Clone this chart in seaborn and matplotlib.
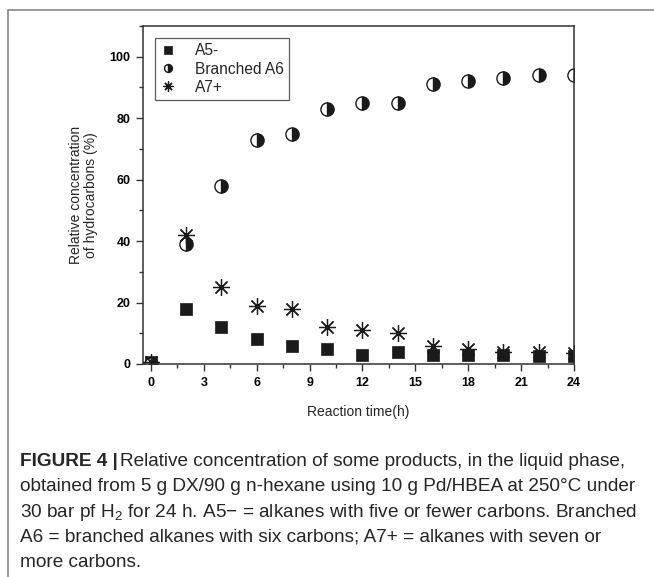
import numpy as np
import pandas as pd
import matplotlib
matplotlib.use("Agg")
import matplotlib.pyplot as plt
from matplotlib.lines import Line2D
from matplotlib.ticker import MultipleLocator
import seaborn as sns

time_h = [0, 2, 4, 6, 8, 10, 12, 14, 16, 18, 20, 22, 24]
a5_minus = [0.5, 18, 12, 8, 6, 5, 3, 4, 3, 3, 3, 2.5, 2.5]
branched_a6 = [0, 39, 58, 73, 75, 83, 85, 85, 91, 92, 93, 94, 94]
a7_plus = [0.5, 42, 25, 19, 18, 12, 11, 10, 6, 5, 4, 4, 3.5]
series_names = ["A5-", "Branched A6", "A7+"]
x_ticks = [0, 3, 6, 9, 12, 15, 18, 21, 24]
y_ticks = [0, 20, 40, 60, 80, 100]

sns.set_style("ticks")
plt.rcParams["font.family"] = ["Liberation Sans", "DejaVu Sans"]

W, H = 654, 577
fig = plt.figure(figsize=(W / 100, H / 100), dpi=100)
ax = fig.add_axes([143 / W, 1 - 364 / H, (574 - 143) / W, (364 - 26) / H])

df = pd.DataFrame({"t": time_h, "a5": a5_minus, "a6": branched_a6, "a7": a7_plus})

sns.lineplot(data=df, x="t", y="a5", ax=ax, linestyle="", marker="s", markersize=9.3,
             color="#1a1a1a", markeredgecolor="#1a1a1a", markeredgewidth=0.5,
             errorbar=None, sort=False, label=series_names[0])
sns.lineplot(data=df, x="t", y="a6", ax=ax, linestyle="", marker="o", markersize=9.5,
             fillstyle="right", color="#1a1a1a", markerfacecolor="#1a1a1a",
             markerfacecoloralt="white", markeredgecolor="#1a1a1a", markeredgewidth=1.0,
             errorbar=None, sort=False, label=series_names[1])
sns.lineplot(data=df, x="t", y="a7", ax=ax, linestyle="", marker=(8, 2, 0), markersize=12,
             color="#1a1a1a", markeredgecolor="#1a1a1a", markeredgewidth=0.9,
             errorbar=None, sort=False, label=series_names[2])

ax.set_xlim(-0.45, 24)
ax.set_ylim(0, 110)
ax.set_xticks(x_ticks)
ax.set_yticks(y_ticks)
ax.xaxis.set_minor_locator(MultipleLocator(1.5))
ax.yaxis.set_minor_locator(MultipleLocator(10))
ax.tick_params(which="major", direction="out", length=5, width=1, colors="#333333",
               labelcolor="black", labelsize=9, pad=4)
ax.tick_params(which="minor", direction="out", length=3, width=1, colors="#333333")
for lab in ax.get_xticklabels() + ax.get_yticklabels():
    lab.set_fontweight("bold")
for s in ax.spines.values():
    s.set_visible(True)
    s.set_linewidth(1.1)
    s.set_color("#333333")

ax.set_xlabel("Reaction time(h)", fontsize=10, labelpad=12)
ax.set_ylabel("Relative concentration\nof hydrocarbons (%)", fontsize=10, labelpad=8,
              linespacing=1.1)

leg = ax.legend(loc="upper left", bbox_to_anchor=(12 / 431, 1 - 12 / 338), borderaxespad=0,
                frameon=True, fancybox=False, edgecolor="#333333", fontsize=11.2,
                markerscale=0.6, handlelength=1.0, handletextpad=1.2, borderpad=0.35,
                labelspacing=0.2)
leg.get_frame().set_linewidth(0.9)

# figure frame
fig.add_artist(Line2D([8 / W, 1], [1 - 10 / H, 1 - 10 / H], color="#888888", lw=1.2,
                      transform=fig.transFigure))
fig.add_artist(Line2D([8 / W, 8 / W], [0, 1 - 10 / H], color="#888888", lw=1.2,
                      transform=fig.transFigure))

cap_fam = ["Liberation Sans", "DejaVu Sans"]
cap_size = 13.7
x0 = 20 / W
ys = [466, 491.3, 516.7, 542, 567]
t1 = fig.text(x0, 1 - ys[0] / H, "FIGURE 4 |", fontsize=cap_size, fontweight="bold",
              family=cap_fam, va="baseline", ha="left")
fig.canvas.draw()
r = fig.canvas.get_renderer()
bb = t1.get_window_extent(r)
fig.text(bb.x1 / W + 2 / W, 1 - ys[0] / H, "Relative concentration of some products, in the liquid phase,",
         fontsize=cap_size, family=cap_fam, va="baseline", ha="left")
lines = [
    "obtained from 5 g DX/90 g n-hexane using 10 g Pd/HBEA at 250\u00b0C under",
    "30 bar pf H$_{\\mathregular{2}}$ for 24 h. A5\u2212 = alkanes with five or fewer carbons. Branched",
    "A6 = branched alkanes with six carbons; A7+ = alkanes with seven or",
    "more carbons.",
]
for ln, yy in zip(lines, ys[1:]):
    fig.text(x0, 1 - yy / H, ln, fontsize=cap_size, family=cap_fam, va="baseline", ha="left")

fig.savefig("out.png", dpi=100)
